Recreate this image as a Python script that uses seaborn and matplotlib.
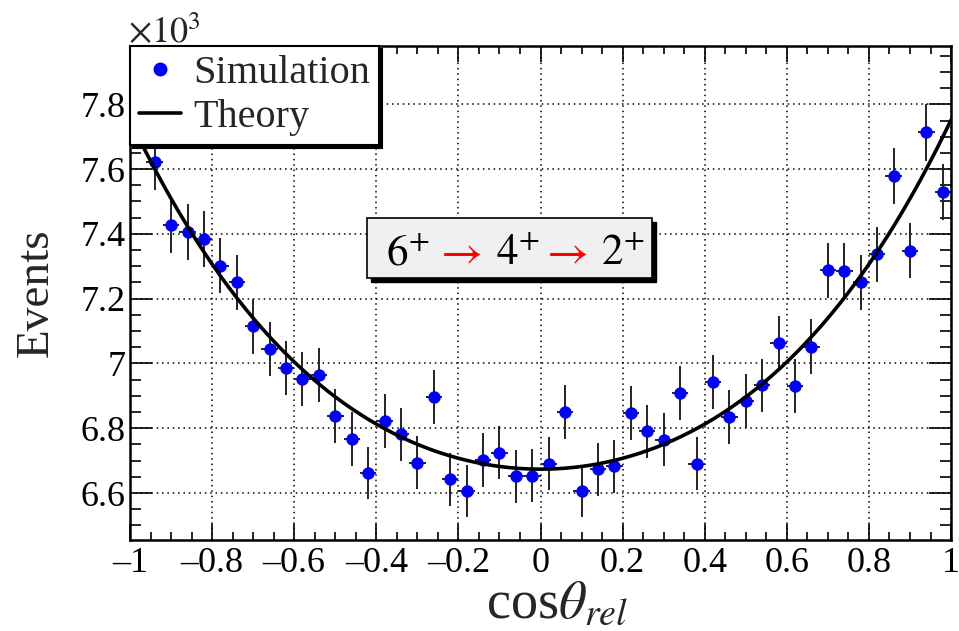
import numpy as np
import pandas as pd
import matplotlib
matplotlib.use("Agg")
import matplotlib.pyplot as plt
from matplotlib.ticker import AutoMinorLocator, FuncFormatter
from matplotlib.lines import Line2D
from matplotlib.patches import Rectangle
import seaborn as sns

# ---------------- data ----------------
cos_theta = [-0.98, -0.94, -0.90, -0.86, -0.82, -0.78, -0.74, -0.70, -0.66, -0.62,
             -0.58, -0.54, -0.50, -0.46, -0.42, -0.38, -0.34, -0.30, -0.26, -0.22,
             -0.18, -0.14, -0.10, -0.06, -0.02, 0.02, 0.06, 0.10, 0.14, 0.18,
             0.22, 0.26, 0.30, 0.34, 0.38, 0.42, 0.46, 0.50, 0.54, 0.58,
             0.62, 0.66, 0.70, 0.74, 0.78, 0.82, 0.86, 0.90, 0.94, 0.98]
events = [7800, 7622, 7428, 7406, 7384, 7302, 7250, 7115, 7044, 6986,
          6951, 6963, 6837, 6767, 6662, 6822, 6781, 6694, 6896, 6642,
          6606, 6702, 6724, 6652, 6653, 6691, 6850, 6606, 6674, 6683,
          6848, 6790, 6765, 6908, 6691, 6942, 6835, 6884, 6932, 7064,
          6929, 7052, 7288, 7286, 7250, 7337, 7578, 7348, 7714, 7530]
bin_half_width = 0.02
# theory: W(x) = A (1 + a2 P2(x) + a4 P4(x))
theory_A = 7000.0
theory_a2 = 0.0993
theory_a4 = 0.0081

x_ticks = [-1, -0.8, -0.6, -0.4, -0.2, 0, 0.2, 0.4, 0.6, 0.8, 1]
y_ticks = [6600, 6800, 7000, 7200, 7400, 7600, 7800]
x_label = r"cos$\theta_{rel}$"
y_label = "Events"
legend_labels = ["Simulation", "Theory"]

# ---------------- style ----------------
sns.set_style("ticks")
plt.rcParams["font.family"] = ["Liberation Serif", "DejaVu Serif"]
plt.rcParams["mathtext.fontset"] = "stix"
plt.rcParams["axes.unicode_minus"] = True

df = pd.DataFrame({"cos": cos_theta, "events": events})
df["err"] = np.sqrt(df["events"])

xs = np.linspace(-1, 1, 400)
P2 = 0.5 * (3 * xs**2 - 1)
P4 = (35 * xs**4 - 30 * xs**2 + 3) / 8
theory = pd.DataFrame({"cos": xs, "W": theory_A * (1 + theory_a2 * P2 + theory_a4 * P4)})

fig = plt.figure(figsize=(9.59, 6.31), dpi=100)
ax = fig.add_axes([0.1356, 0.1442, 0.8561, 0.7829])

ax.errorbar(df["cos"], df["events"], yerr=df["err"], xerr=bin_half_width,
            fmt="none", ecolor="#222222", elinewidth=1.4, capsize=0, zorder=2)
sns.scatterplot(data=df, x="cos", y="events", ax=ax, color="#0000ff", s=80,
                linewidth=0, zorder=3, legend=False)
sns.lineplot(data=theory, x="cos", y="W", ax=ax, color="black", linewidth=2.6,
             zorder=4, legend=False)

ax.set_xlim(-1, 1)
ax.set_ylim(6455, 7980)
ax.set_xticks(x_ticks)
ax.set_yticks(y_ticks)
ax.xaxis.set_minor_locator(AutoMinorLocator(4))
ax.yaxis.set_minor_locator(AutoMinorLocator(4))
ax.xaxis.set_major_formatter(FuncFormatter(lambda v, p: f"{v:g}".replace("-", "\u2013")))
ax.yaxis.set_major_formatter(FuncFormatter(lambda v, p: f"{v/1000:g}"))

ax.tick_params(axis="both", which="both", direction="in", top=True, right=True,
               colors="black", width=1.2)
ax.tick_params(axis="x", which="major", length=11.5, labelsize=26, pad=5)
ax.tick_params(axis="x", which="minor", length=6)
ax.tick_params(axis="y", which="major", length=15.5, labelsize=26, pad=3)
ax.tick_params(axis="y", which="minor", length=8)
for s in ax.spines.values():
    s.set_linewidth(1.8)
    s.set_color("black")

ax.grid(True, which="major", color="black", linestyle=(0, (1, 2.5)), linewidth=1.1)
ax.set_axisbelow(True)

ax.set_xlabel(x_label, fontsize=39)
ax.set_ylabel(y_label, fontsize=34)
ax.xaxis.set_label_coords(0.52, -0.08)
ax.yaxis.set_label_coords(-0.088, 0.5)

# exponent label
fig.text(128 / 959, 1 - 43 / 631, r"$\times10^{3}$", fontsize=26, ha="left", va="baseline")

# legend
handles = [Line2D([], [], marker="o", linestyle="none", color="#0000ff", markersize=9),
           Line2D([], [], color="black", linewidth=2.6)]
leg = ax.legend(handles, legend_labels, loc="upper left", bbox_to_anchor=(0, 1),
                borderaxespad=0, fontsize=29, frameon=True, fancybox=False,
                framealpha=1, edgecolor="black", handlelength=1.05,
                handletextpad=0.3, borderpad=0.22, labelspacing=0.18,
                shadow={"color": "black", "alpha": 1})
leg.get_frame().set_linewidth(1.5)
leg.set_zorder(10)

# transition label box
shadow_off = 4 / 821
box = dict(x0=0.2887, y0=0.5304, w=0.6358 - 0.2887, h=0.6518 - 0.5304)
ax.add_patch(Rectangle((box["x0"] + shadow_off, box["y0"] - 4 / 494), box["w"], box["h"],
                       transform=ax.transAxes, facecolor="black", edgecolor="black",
                       zorder=6))
ax.add_patch(Rectangle((box["x0"], box["y0"]), box["w"], box["h"],
                       transform=ax.transAxes, facecolor="#f0f0f0", edgecolor="black",
                       linewidth=1.2, zorder=7))
pieces = [(r"$6^{+}$", "black", 0.3386, 31), (r"$\rightarrow$", "red", 0.4000, 33),
          (r"$4^{+}$", "black", 0.4726, 31), (r"$\rightarrow$", "red", 0.5290, 33),
          (r"$2^{+}$", "black", 0.6000, 31)]
for txt, col, xc, fs in pieces:
    ax.text(xc, 0.5567, txt, transform=ax.transAxes, color=col, fontsize=fs,
            ha="center", va="baseline", zorder=8)

fig.savefig("out.png", dpi=100)
